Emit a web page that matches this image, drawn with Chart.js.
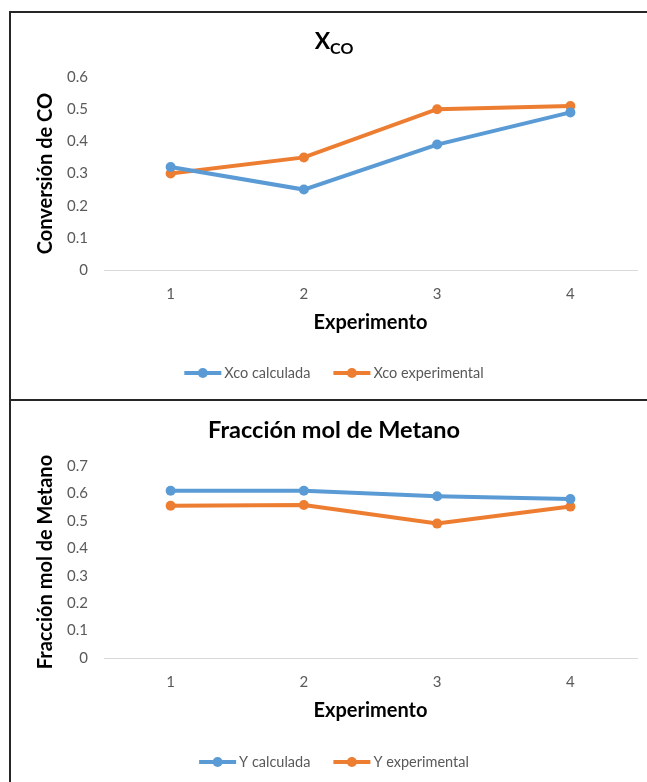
<!DOCTYPE html>
<html>
<head>
<meta charset="utf-8">
<script src="https://cdn.jsdelivr.net/npm/chart.js@4"></script>
<style>
html, body { margin: 0; padding: 0; overflow: hidden; background: #fff; }
#marco { position: absolute; left: 9px; top: 11px; width: 700px; height: 800px;
         border-left: 2px solid #262626; border-top: 2px solid #262626; }
#divisor { position: absolute; left: 9px; top: 399px; width: 700px; height: 2px; background: #262626; }
canvas { position: absolute; left: 11px; }
#grafica1 { top: 13px; }
#grafica2 { top: 401px; }
</style>
</head>
<body>
<div id="marco"></div>
<div id="divisor"></div>
<canvas id="grafica1" width="646" height="386"></canvas>
<canvas id="grafica2" width="646" height="381"></canvas>
<script>
// datos
const experimentos = ['1', '2', '3', '4'];
const xcoCalculada = [0.32, 0.25, 0.39, 0.49];
const xcoExperimental = [0.30, 0.35, 0.50, 0.51];
const yCalculada = [0.61, 0.61, 0.59, 0.58];
const yExperimental = [0.555, 0.558, 0.49, 0.552];

const azul = '#5B9BD5';
const naranja = '#ED7D31';
const fuente = 'Lato, "Open Sans", sans-serif';

// titulo (con subindice) y leyenda al estilo Excel
const tituloYLeyenda = {
    id: 'tituloYLeyenda',
    afterDraw: function (chart, args, opts) {
        const ctx = chart.ctx
        const cx = chart.width / 2
        ctx.save()
        ctx.fillStyle = '#000'
        ctx.textBaseline = 'alphabetic'
        ctx.textAlign = 'left'
        ctx.font = 'bold ' + opts.size + 'px ' + fuente
        const w1 = ctx.measureText(opts.texto).width
        let w2 = 0
        if (opts.sub) {
            ctx.font = 'bold ' + opts.subSize + 'px ' + fuente
            w2 = ctx.measureText(opts.sub).width
        }
        const x = cx - (w1 + w2) / 2
        ctx.font = 'bold ' + opts.size + 'px ' + fuente
        ctx.fillText(opts.texto, x, opts.baseline)
        if (opts.sub) {
            ctx.font = 'bold ' + opts.subSize + 'px ' + fuente
            ctx.fillText(opts.sub, x + w1, opts.baseline + opts.subDrop)
        }

        // leyenda
        ctx.font = '14.5px ' + fuente
        ctx.textBaseline = 'middle'
        const items = chart.data.datasets.map(d => ({
            label: d.label, color: d.borderColor, w: ctx.measureText(d.label).width
        }))
        const largo = 37, hueco = 3, sep = 23
        let total = sep * (items.length - 1)
        items.forEach(it => { total += largo + hueco + it.w })
        let lx = cx - total / 2
        const ly = opts.legendY
        items.forEach(it => {
            ctx.strokeStyle = it.color
            ctx.lineWidth = 4
            ctx.beginPath()
            ctx.moveTo(lx, ly)
            ctx.lineTo(lx + largo, ly)
            ctx.stroke()
            ctx.fillStyle = it.color
            ctx.beginPath()
            ctx.arc(lx + largo / 2, ly, 5, 0, 2 * Math.PI)
            ctx.fill()
            ctx.fillStyle = '#595959'
            ctx.fillText(it.label, lx + largo + hueco, ly)
            lx += largo + hueco + it.w + sep
        })
        ctx.restore()
    }
}

function serie(label, datos, color) {
    return {
        label: label,
        data: datos,
        borderColor: color,
        backgroundColor: color,
        borderWidth: 4,
        pointRadius: 5,
        pointBorderWidth: 0,
        pointBackgroundColor: color,
        tension: 0
    }
}

function crearGrafica(id, series, yMax, yTitulo, titulo, padTop, padBottom) {
    const ctx = document.getElementById(id).getContext('2d')
    return new Chart(ctx, {
        type: 'line',
        data: { labels: experimentos, datasets: series },
        options: {
            responsive: false,
            animation: false,
            devicePixelRatio: 1,
            layout: { padding: { top: padTop, bottom: padBottom, left: 0, right: 20 } },
            plugins: {
                legend: { display: false },
                tooltip: { enabled: false },
                tituloYLeyenda: titulo
            },
            scales: {
                x: {
                    offset: true,
                    grid: { display: false, drawTicks: false },
                    border: { display: true, color: '#D9D9D9', width: 1 },
                    ticks: { color: '#595959', font: { family: fuente, size: 15 }, padding: 15 },
                    title: {
                        display: true, text: 'Experimento', color: '#000',
                        font: { family: fuente, size: 20, weight: 'bold' },
                        padding: { top: 0, bottom: 3 }
                    },
                    afterFit: function (scale) { scale.height = 68 }
                },
                y: {
                    min: 0,
                    max: yMax,
                    grid: { display: false, drawTicks: false },
                    border: { display: false },
                    ticks: {
                        stepSize: 0.1,
                        color: '#595959',
                        font: { family: fuente, size: 15 },
                        padding: 16,
                        callback: function (v) { return String(+v.toFixed(1)) }
                    },
                    title: {
                        display: true, text: yTitulo, color: '#000',
                        font: { family: fuente, size: 20, weight: 'bold' },
                        padding: { top: 23, bottom: 0 }
                    },
                    afterFit: function (scale) { scale.width = 93 }
                }
            }
        },
        plugins: [tituloYLeyenda]
    })
}

crearGrafica('grafica1',
    [serie('Xco calculada', xcoCalculada, azul), serie('Xco experimental', xcoExperimental, naranja)],
    0.6, 'Conversión de CO',
    { texto: 'X', sub: 'CO', size: 23, subSize: 16, baseline: 36, subDrop: 5, legendY: 360 },
    64, 61)

crearGrafica('grafica2',
    [serie('Y calculada', yCalculada, azul), serie('Y experimental', yExperimental, naranja)],
    0.7, 'Fracción mol de Metano',
    { texto: 'Fracción mol de Metano', size: 23.5, baseline: 37, legendY: 361 },
    65, 56)
</script>
</body>
</html>
